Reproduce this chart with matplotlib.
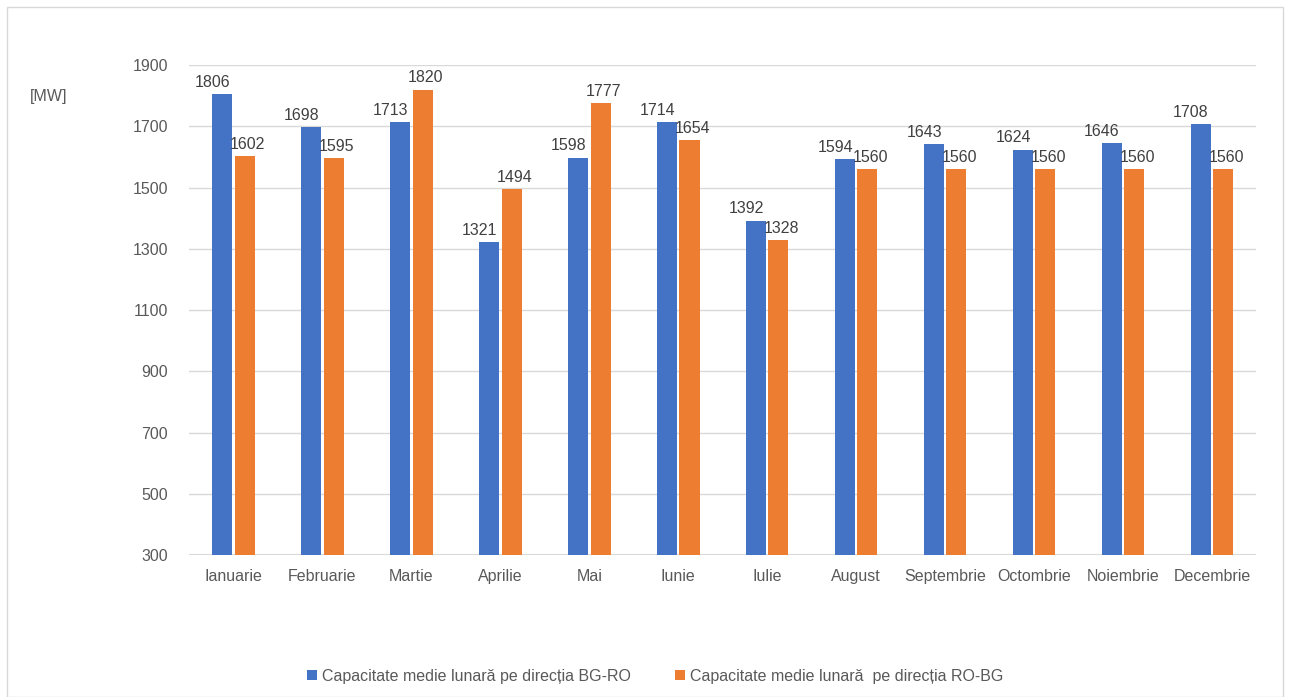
import numpy as np
import matplotlib
matplotlib.use("Agg")
import matplotlib.pyplot as plt
from matplotlib.patches import Rectangle

months = ["Ianuarie", "Februarie", "Martie", "Aprilie", "Mai", "Iunie",
          "Iulie", "August", "Septembrie", "Octombrie", "Noiembrie", "Decembrie"]
bg_ro = [1806, 1698, 1713, 1321, 1598, 1714, 1392, 1594, 1643, 1624, 1646, 1708]
ro_bg = [1602, 1595, 1820, 1494, 1777, 1654, 1328, 1560, 1560, 1560, 1560, 1560]
yticks = [300, 500, 700, 900, 1100, 1300, 1500, 1700, 1900]

label_bg = "Capacitate medie lunară pe direcția BG-RO"
label_ro = "Capacitate medie lunară  pe direcția RO-BG"

blue = "#4472C4"
orange = "#ED7D31"
txt = "#595959"

plt.rcParams['font.family'] = ['Liberation Sans', 'DejaVu Sans']

fig = plt.figure(figsize=(12.9, 6.97), dpi=100)
ax = fig.add_axes([0.1465, 0.2037, 0.8275, 0.703])

x = np.arange(len(months))
w = 0.225
gap = 0.028
b1 = ax.bar(x - w/2 - gap/2, bg_ro, w, color=blue, label=label_bg, zorder=3)
b2 = ax.bar(x + w/2 + gap/2, ro_bg, w, color=orange, label=label_ro, zorder=3)

# excel nudges the labels apart a little
for rects, vals, dx in ((b1, bg_ro, -7), (b2, ro_bg, 2)):
    for r, v in zip(rects, vals):
        ax.annotate(str(v), (r.get_x() + r.get_width()/2, v), xytext=(dx, 3),
                    textcoords='offset points', ha='center', va='bottom',
                    fontsize=11.5, color="#404040")

ax.set_xlim(-0.5, len(months) - 0.5)
ax.set_ylim(300, 1900)
ax.set_yticks(yticks)
ax.set_xticks(x)
ax.set_xticklabels(months)
ax.tick_params(axis='both', length=0, labelsize=11.5, colors=txt)
ax.tick_params(axis='x', pad=10)
ax.tick_params(axis='y', pad=15)
ax.grid(axis='y', color="#D9D9D9", linewidth=1, zorder=0)
for s in ax.spines.values():
    s.set_visible(False)
ax.axhline(300, color="#D9D9D9", linewidth=1.5, zorder=1)

fig.text(30/1290, 1 - 96/697, "[MW]", fontsize=11.5, color=txt, va='center')

fig.legend(handles=[b1, b2], loc='center', bbox_to_anchor=(0.508, 1 - 676/697),
           ncol=2, frameon=False, fontsize=11.5, handlelength=0.6, handleheight=0.6,
           columnspacing=2.8, handletextpad=0.3, labelcolor=txt)

fig.patches.append(Rectangle((7/1290, 0.0), 1 - 14/1290, 1 - 7/697,
                             transform=fig.transFigure, fill=False,
                             edgecolor="#D9D9D9", linewidth=1))

fig.savefig("out.png", dpi=100)
